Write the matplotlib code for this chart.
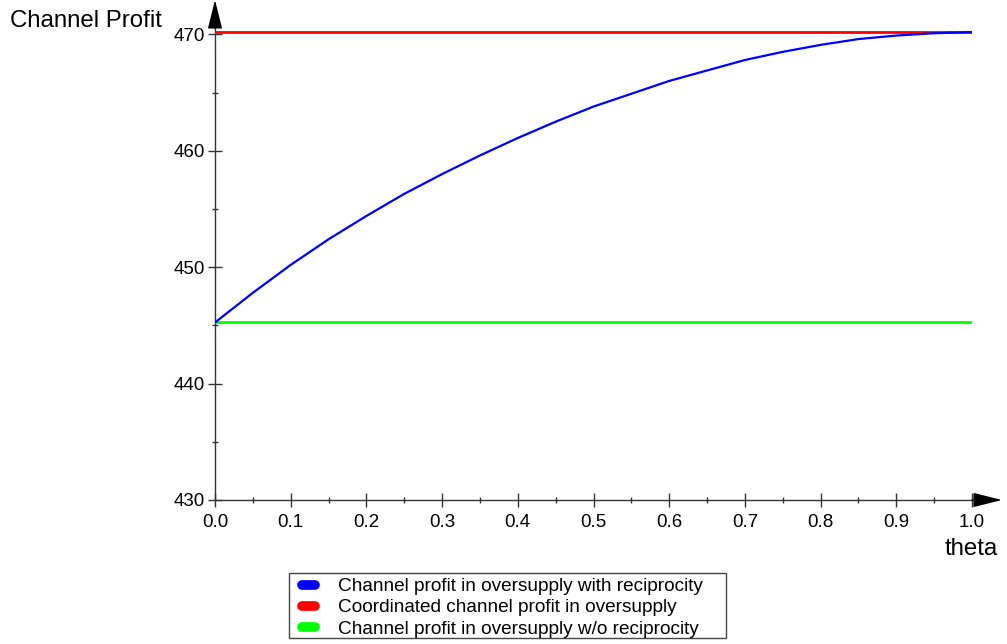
import matplotlib
matplotlib.use("Agg")
import numpy as np
import matplotlib.pyplot as plt
from matplotlib.patches import Rectangle
from matplotlib.ticker import MultipleLocator

plt.rcParams["font.family"] = ["Liberation Sans", "DejaVu Sans"]

# ---------------------------------------------------------
# data
# ---------------------------------------------------------

theta = [0.00, 0.05, 0.10, 0.15, 0.20, 0.25, 0.30, 0.35, 0.40, 0.45, 0.50,
         0.55, 0.60, 0.65, 0.70, 0.75, 0.80, 0.85, 0.90, 0.95, 1.00]

profit_reciprocity = [445.25, 447.8, 450.2, 452.4, 454.4, 456.3, 458.0,
                      459.6, 461.1, 462.5, 463.8, 464.9, 466.0, 466.9,
                      467.8, 468.5, 469.1, 469.6, 469.9, 470.1, 470.2]

profit_coordinated = [470.2] * len(theta)
profit_no_reciprocity = [445.25] * len(theta)

labels = [
    "Channel profit in oversupply with reciprocity",
    "Coordinated channel profit in oversupply",
    "Channel profit in oversupply w/o reciprocity",
]

# ---------------------------------------------------------
# figure
# ---------------------------------------------------------

W, H = 1007, 644
fig = plt.figure(figsize=(W / 100, H / 100), dpi=100)

x0, x1 = 215, 972          # pixel columns of theta = 0 and 1
y_bot = 500                # pixel row of profit = 430
px_per_unit = 11.64
y_top_val = 470.5
ax_h = (y_top_val - 430) * px_per_unit

ax = fig.add_axes([x0 / W, 1 - y_bot / H, (x1 - x0) / W, ax_h / H])

ax.plot(theta, profit_coordinated, color="#ff0000", lw=2.0, label=labels[1], zorder=3)
ax.plot(theta, profit_no_reciprocity, color="#00ff00", lw=2.0, label=labels[2], zorder=3)
ax.plot(theta, profit_reciprocity, color="#0000ff", lw=1.6, label=labels[0], zorder=4)

ax.set_xlim(0, 1)
ax.set_ylim(430, y_top_val)

for side in ("top", "right"):
    ax.spines[side].set_visible(False)
for side in ("left", "bottom"):
    ax.spines[side].set_color("#333333")
    ax.spines[side].set_linewidth(1.0)

ax.xaxis.set_major_locator(MultipleLocator(0.1))
ax.xaxis.set_minor_locator(MultipleLocator(0.05))
ax.yaxis.set_major_locator(MultipleLocator(10))
ax.yaxis.set_minor_locator(MultipleLocator(5))
ax.xaxis.set_major_formatter(plt.FuncFormatter(lambda v, p: f"{v:.1f}"))

ax.tick_params(which="major", direction="inout", length=10, width=1,
               color="#333333", labelsize=13.5)
ax.tick_params(which="minor", direction="inout", length=5, width=1,
               color="#333333")
ax.tick_params(axis="x", which="major", pad=5)
ax.tick_params(axis="y", which="major", pad=2)

# axis arrows
ax.annotate("", xy=(x0 / W, 1.0), xycoords="figure fraction",
            xytext=(x0 / W, 1 - (y_bot - ax_h) / H), textcoords="figure fraction",
            arrowprops=dict(arrowstyle="-|>,head_length=1.8,head_width=0.45",
                            mutation_scale=10, color="black", lw=1,
                            shrinkA=0, shrinkB=0))
ax.annotate("", xy=(1002 / W, 1 - y_bot / H), xycoords="figure fraction",
            xytext=(x1 / W, 1 - y_bot / H), textcoords="figure fraction",
            arrowprops=dict(arrowstyle="-|>,head_length=1.8,head_width=0.45",
                            mutation_scale=10, color="black", lw=1,
                            shrinkA=0, shrinkB=0))

fig.text(10 / W, 1 - 21 / H, "Channel Profit", fontsize=17.3,
         ha="left", va="center")
fig.text(998 / W, 1 - 549 / H, "theta", fontsize=17.3,
         ha="right", va="center")

# legend box drawn separately so the padding can differ per direction
fig.patches.append(Rectangle((289 / W, 1 - 638 / H), (726 - 289) / W, 65 / H,
                             transform=fig.transFigure, fill=False,
                             edgecolor="#444444", lw=1.0))

handles, labs = ax.get_legend_handles_labels()
order = [2, 0, 1]
leg = fig.legend([handles[i] for i in order], [labs[i] for i in order],
                 loc="upper left", bbox_to_anchor=(302 / W, 1 - 578 / H),
                 fontsize=13.7, frameon=False,
                 handlelength=0.7, handletextpad=1.17, borderpad=0,
                 labelspacing=0.2, borderaxespad=0)
for line in leg.get_lines():
    line.set_linewidth(7)
    line.set_solid_capstyle("round")

fig.savefig("out.png", dpi=100)
